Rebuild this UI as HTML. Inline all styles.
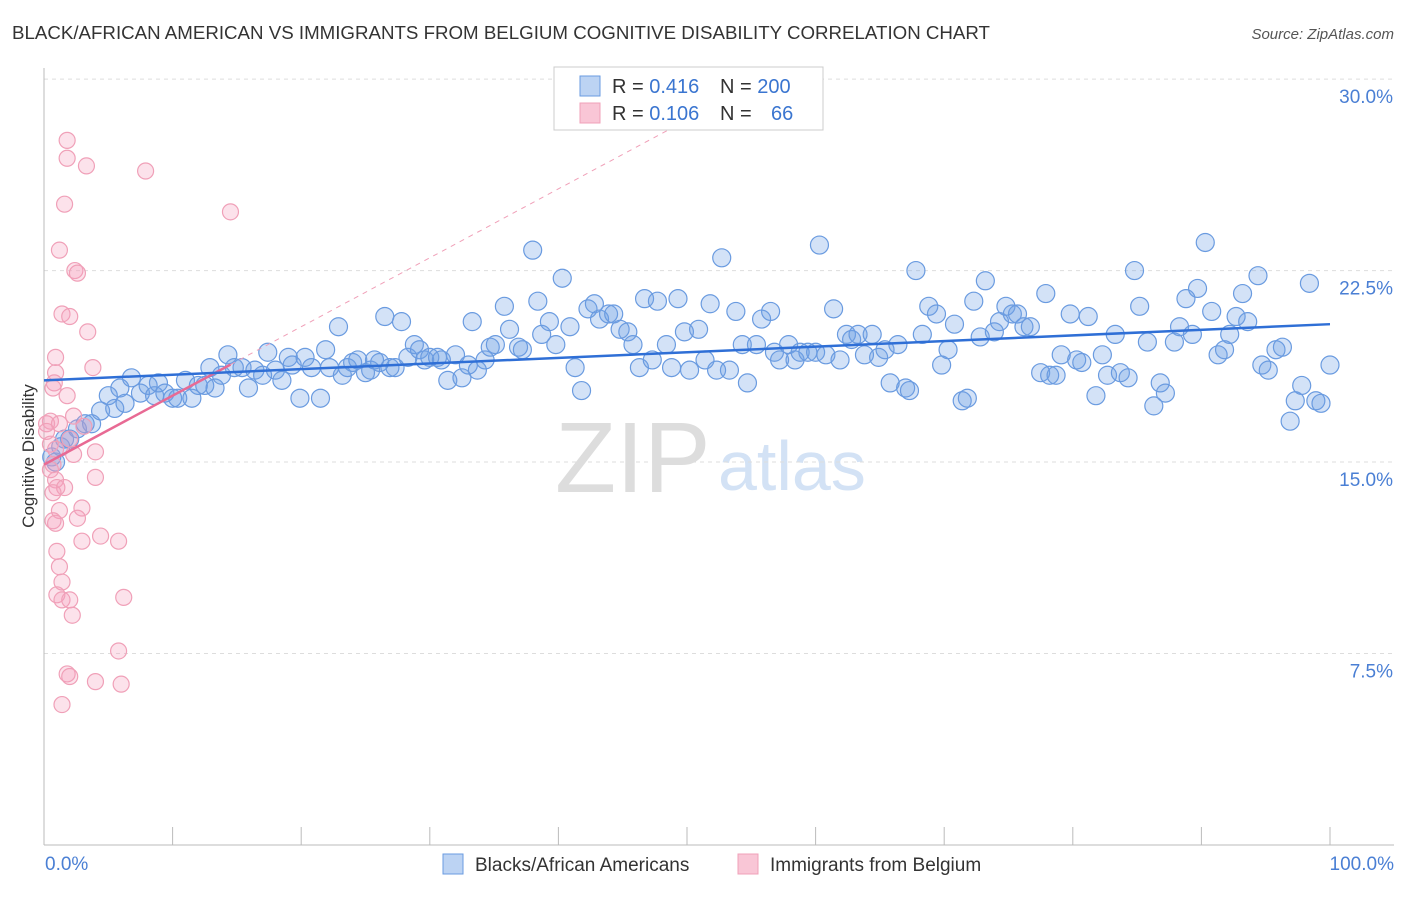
<!DOCTYPE html>
<html><head><meta charset="utf-8"><style>
body{margin:0;background:#fff;font-family:"Liberation Sans",sans-serif;}
svg text{font-family:"Liberation Sans",sans-serif;}
</style></head><body>
<svg id="chart" width="1406" height="892" xmlns="http://www.w3.org/2000/svg">
<text x="12" y="39" font-size="18" fill="#333" textLength="978" lengthAdjust="spacingAndGlyphs">BLACK/AFRICAN AMERICAN VS IMMIGRANTS FROM BELGIUM COGNITIVE DISABILITY CORRELATION CHART</text>
<text x="1394" y="39" font-size="15" fill="#555" text-anchor="end" font-style="italic">Source: ZipAtlas.com</text>
<text x="555" y="492" font-size="100" fill="#ddd" font-family="Liberation Serif,serif">ZIP</text>
<text x="718" y="490" font-size="70" fill="#d3e2f5">atlas</text>
<g id="grid"></g>
<g id="axes"></g>
<g id="pts"></g>
<g id="trends"></g>
<text x="34" y="456" font-size="17" fill="#333" text-anchor="middle" transform="rotate(-90 34 456)">Cognitive Disability</text>
<text x="45" y="870" font-size="19" fill="#4a7fd4">0.0%</text>
<text x="1394" y="870" font-size="19" fill="#4a7fd4" text-anchor="end">100.0%</text>
<g>
<rect x="554" y="67" width="269" height="63" fill="#fff" stroke="#ccc"/>
<rect x="580" y="76" width="20" height="20" fill="#bcd3f3" stroke="#6a9be0"/>
<rect x="580" y="103" width="20" height="20" fill="#f9c6d6" stroke="#f0a0b8"/>
<text x="612" y="93" font-size="20" fill="#333">R = <tspan fill="#3a75d0">0.416</tspan></text>
<text x="720" y="93" font-size="20" fill="#333">N = <tspan fill="#3a75d0">200</tspan></text>
<text x="612" y="120" font-size="20" fill="#333">R = <tspan fill="#3a75d0">0.106</tspan></text>
<text x="720" y="120" font-size="20" fill="#333">N = <tspan fill="#3a75d0" x="771">66</tspan></text>
</g>
<g>
<rect x="443" y="854" width="20" height="20" fill="#bcd3f3" stroke="#6a9be0"/>
<text x="475" y="871" font-size="19" fill="#333">Blacks/African Americans</text>
<rect x="738" y="854" width="20" height="20" fill="#f9c6d6" stroke="#f0a0b8"/>
<text x="770" y="871" font-size="19" fill="#333">Immigrants from Belgium</text>
</g>
</svg>
<script>
const yTicks=[7.5,15,22.5,30];
const yTickLabels=["7.5%","15.0%","22.5%","30.0%"];
const xTicks=[0,10,20,30,40,50,60,70,80,90,100];
const blueTrend=[18.2,20.4];
const pinkTrend=[14.9,0.27];
const pinkSolidEnd=14.5, pinkDashEnd=56;
const blueX=[0.6,0.9,1.3,1.6,2.0,2.6,3.2,3.7,4.4,5.0,5.5,5.9,6.3,6.8,7.5,8.1,8.6,8.9,9.4,10.0,10.4,11.0,11.5,12.0,12.5,12.9,13.3,13.8,14.3,14.8,15.4,15.9,16.4,17.0,17.4,18.0,18.5,19.0,19.3,19.9,20.3,20.8,21.5,21.9,22.2,22.9,23.2,23.6,24.0,24.4,25.0,25.4,25.7,26.1,26.5,26.9,27.3,27.8,28.3,28.8,29.2,29.6,30.0,30.6,30.9,31.4,32.0,32.5,33.0,33.3,33.7,34.3,34.7,35.1,35.8,36.2,36.9,37.2,38.0,38.4,38.7,39.3,39.8,40.3,40.9,41.3,41.8,42.3,42.8,43.2,43.9,44.3,44.8,45.4,45.8,46.3,46.7,47.3,47.7,48.4,48.8,49.3,49.8,50.2,50.9,51.4,51.8,52.3,52.7,53.3,53.8,54.3,54.7,55.4,55.8,56.5,56.8,57.2,57.9,58.4,58.8,59.4,60.0,60.3,60.8,61.4,61.9,62.4,62.8,63.3,63.8,64.4,64.9,65.4,65.8,66.4,67.0,67.3,67.8,68.3,68.8,69.4,69.8,70.3,70.8,71.4,71.8,72.3,72.8,73.2,73.9,74.3,74.8,75.3,75.7,76.2,76.7,77.5,77.9,78.2,78.7,79.1,79.8,80.3,80.7,81.2,81.8,82.3,82.7,83.3,83.7,84.3,84.8,85.2,85.8,86.3,86.8,87.2,87.9,88.3,88.8,89.3,89.7,90.3,90.8,91.3,91.8,92.2,92.7,93.2,93.6,94.4,94.7,95.2,95.8,96.3,96.9,97.3,97.8,98.4,98.9,99.3,100.0];
const blueY=[15.2,15.0,15.6,15.9,15.9,16.3,16.5,16.5,17.0,17.6,17.1,17.9,17.3,18.3,17.7,18.0,17.6,18.1,17.7,17.5,17.5,18.2,17.5,18.0,18.0,18.7,17.9,18.4,19.2,18.7,18.7,17.9,18.6,18.4,19.3,18.6,18.2,19.1,18.8,17.5,19.1,18.7,17.5,19.4,18.7,20.3,18.4,18.7,18.9,19.0,18.5,18.6,19.0,18.9,20.7,18.7,18.7,20.5,19.1,19.6,19.4,19.0,19.1,19.1,19.0,18.2,19.2,18.3,18.8,20.5,18.6,19.0,19.5,19.6,21.1,20.2,19.5,19.4,23.3,21.3,20.0,20.5,19.6,22.2,20.3,18.7,17.8,21.0,21.2,20.6,20.8,20.8,20.2,20.1,19.6,18.7,21.4,19.0,21.3,19.6,18.7,21.4,20.1,18.6,20.2,19.0,21.2,18.6,23.0,18.6,20.9,19.6,18.1,19.6,20.6,20.9,19.3,19.0,19.6,19.0,19.3,19.3,19.3,23.5,19.2,21.0,19.0,20.0,19.8,20.0,19.2,20.0,19.1,19.4,18.1,19.6,17.9,17.8,22.5,20.0,21.1,20.8,18.8,19.4,20.4,17.4,17.5,21.3,19.9,22.1,20.1,20.5,21.1,20.8,20.8,20.3,20.3,18.5,21.6,18.4,18.4,19.2,20.8,19.0,18.9,20.7,17.6,19.2,18.4,20.0,18.5,18.3,22.5,21.1,19.7,17.2,18.1,17.7,19.7,20.3,21.4,20.0,21.8,23.6,20.9,19.2,19.4,20.0,20.7,21.6,20.5,22.3,18.8,18.6,19.4,19.5,16.6,17.4,18.0,22.0,17.4,17.3,18.8];
const pinkX=[1.8,1.8,3.3,7.9,14.5,1.6,1.2,2.4,2.6,1.4,2.0,3.4,0.9,0.9,0.8,0.7,3.8,1.8,2.3,0.5,0.2,1.2,3.1,0.2,0.5,0.9,2.0,4.0,2.3,0.7,0.5,0.9,1.0,1.6,0.7,4.0,2.95,1.2,2.6,0.7,0.9,2.95,4.4,5.8,1.0,1.2,1.4,1.0,1.4,2.0,6.2,2.2,5.8,1.8,2.0,4.0,6.0,1.4];
const pinkY=[27.6,26.9,26.6,26.4,24.8,25.1,23.3,22.5,22.4,20.8,20.7,20.1,19.1,18.5,18.1,17.9,18.7,17.6,16.8,16.6,16.5,16.5,16.4,16.2,15.7,15.5,15.9,15.4,15.3,14.9,14.7,14.3,14.0,14.0,13.8,14.4,13.2,13.1,12.8,12.7,12.6,11.9,12.1,11.9,11.5,10.9,10.3,9.8,9.6,9.6,9.7,9.0,7.6,6.7,6.6,6.4,6.3,5.5];
const NS="http://www.w3.org/2000/svg";
const X=v=>44+v*12.86, Y=v=>845-v*25.53;
function mk(t,a,p){const e=document.createElementNS(NS,t);for(const k in a)e.setAttribute(k,a[k]);document.getElementById(p).appendChild(e);return e;}
yTicks.forEach((t,i)=>{
 const l=mk('line',{x1:44,x2:1394,y1:Y(t),y2:Y(t),stroke:'#ddd','stroke-dasharray':'4,4'},'grid');
 
 
 const tx=mk('text',{x:1393,y:Y(t)+24,'font-size':19,fill:'#4a7fd4','text-anchor':'end'},'grid');
 tx.textContent=yTickLabels[i];
 
 
});
const ax=mk('line',{x1:44,x2:1394,y1:845,y2:845,stroke:'#bbb'},'axes');


const ay=mk('line',{x1:44,x2:44,y1:68,y2:845,stroke:'#bbb'},'axes');


xTicks.forEach(t=>{
 const l=mk('line',{x1:X(t),x2:X(t),y1:827,y2:845,stroke:'#bbb'},'axes');
 
 
});
blueX.forEach((v,i)=>{
 const c=mk('circle',{cx:X(v),cy:Y(blueY[i]),r:9,fill:'rgba(110,160,230,0.3)',stroke:'#6a9be0','stroke-width':1.2},'pts');
 
 
});
pinkX.forEach((v,i)=>{
 const c=mk('circle',{cx:X(v),cy:Y(pinkY[i]),r:8,fill:'rgba(245,160,190,0.3)',stroke:'#f0a0b8','stroke-width':1.2},'pts');
 
 
});
const pd=mk('line',{x1:X(pinkSolidEnd),y1:Y(pinkTrend[0]+pinkTrend[1]*pinkSolidEnd),x2:X(pinkDashEnd),y2:Y(pinkTrend[0]+pinkTrend[1]*pinkDashEnd),stroke:'#f0a0b8','stroke-dasharray':'5,5','stroke-width':1},'trends');


const ps=mk('line',{x1:X(0),y1:Y(pinkTrend[0]),x2:X(pinkSolidEnd),y2:Y(pinkTrend[0]+pinkTrend[1]*pinkSolidEnd),stroke:'#e86a94','stroke-width':2.5},'trends');


const bt=mk('line',{x1:X(0),y1:Y(blueTrend[0]),x2:X(100),y2:Y(blueTrend[1]),stroke:'#2f6fd6','stroke-width':2.5},'trends');


</script>
</body></html>
